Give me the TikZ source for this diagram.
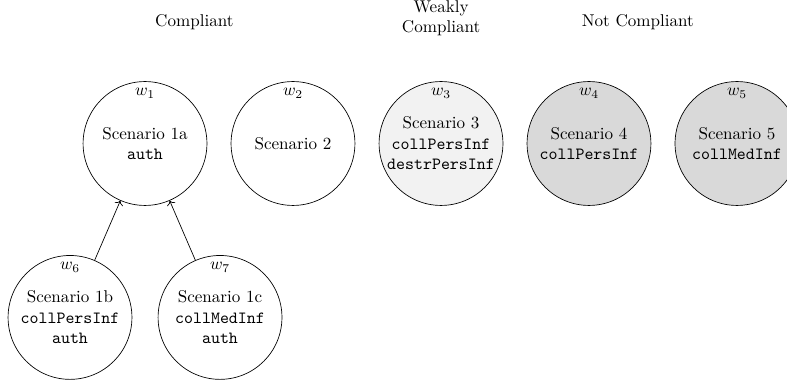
\documentclass[tikz,border=0pt]{standalone}
\usepackage{amsmath,amssymb}
\usepackage{tikz}
\usetikzlibrary{arrows.meta,positioning}
\definecolor{cweak}{gray}{0.95}
\definecolor{cnot}{gray}{0.85}
\tikzset{
  world/.style={draw, circle, minimum size=2.55cm, inner sep=0pt, align=center, fill=white},
  weakw/.style={world, fill=cweak},
  notw/.style={world, fill=cnot},
  wlbl/.style={label={[anchor=north, inner sep=4pt]north:$#1$}},
  head/.style={align=center},
  pre/.style={->},
}
\begin{document}
\begin{tikzpicture}[x=1cm,y=1cm]
\useasboundingbox (0,0) rectangle (16.2,7.884);
% column headings
\node[head] (hcomp) at (4.00,7.43) {Compliant};
\node[head] (hweak) at (9.08,7.51) {Weakly\\Compliant};
\node[head] (hnot)  at (13.13,7.43) {Not Compliant};
% worlds
\node[world, wlbl=w_1] (w1) at (2.985,4.93) {Scenario 1a\\\texttt{auth}};
\node[world, wlbl=w_2] (w2) at (6.031,4.93) {Scenario 2};
\node[weakw, wlbl=w_3] (w3) at (9.078,4.93) {Scenario 3\\\texttt{collPersInf}\\\texttt{destrPersInf}};
\node[notw, wlbl=w_4]  (w4) at (12.124,4.93) {Scenario 4\\\texttt{collPersInf}};
\node[notw, wlbl=w_5]  (w5) at (15.17,4.93) {Scenario 5\\\texttt{collMedInf}};
\node[world, wlbl=w_6] (w6) at (1.441,1.35) {Scenario 1b\\\texttt{collPersInf}\\\texttt{auth}};
\node[world, wlbl=w_7] (w7) at (4.529,1.35) {Scenario 1c\\\texttt{collMedInf}\\\texttt{auth}};
\foreach \a/\b in {w6/w1,w7/w1} \draw[pre] (\a) -- (\b);
\end{tikzpicture}
\end{document}
